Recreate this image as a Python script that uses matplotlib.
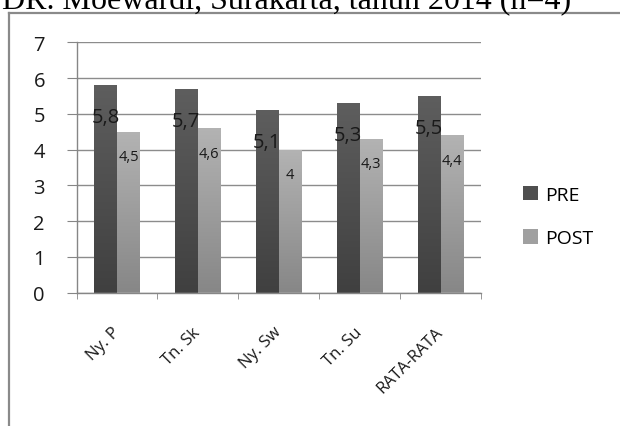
import matplotlib.pyplot as plt
import numpy as np
from matplotlib.colors import LinearSegmentedColormap
from matplotlib.patches import Patch
from matplotlib.lines import Line2D

# data
categories = ["Ny. P", "Tn. Sk", "Ny. Sw", "Tn. Su", "RATA-RATA"]
pre = [5.8, 5.7, 5.1, 5.3, 5.5]
post = [4.5, 4.6, 4.0, 4.3, 4.4]
pre_labels = ["5,8", "5,7", "5,1", "5,3", "5,5"]
post_labels = ["4,5", "4,6", "4", "4,3", "4,4"]
title = "DR. Moewardi, Surakarta, tahun 2014 (n=4)"

plt.rcParams['font.family'] = ['Open Sans', 'DejaVu Sans']

W, H = 620, 427
fig = plt.figure(figsize=(W / 100, H / 100), dpi=100)

# caption line above the chart, cut off at the top edge
fig.text(2 / W, 1 - 9 / H, title, family='Liberation Serif', fontsize=23,
         ha='left', va='baseline', color='black')

# chart frame (only top and left edges are visible)
fig.add_artist(Line2D([9 / W, 1.01], [1 - 14 / H, 1 - 14 / H],
                      transform=fig.transFigure, color='#8a8a8a', lw=1.6))
fig.add_artist(Line2D([9 / W, 9 / W], [-0.01, 1 - 14 / H],
                      transform=fig.transFigure, color='#8a8a8a', lw=1.6))

ax = fig.add_axes([76.5 / W, (H - 293.5) / H, 404.5 / W, 250.2 / H])

x = np.arange(len(categories))
bw = 0.284
pre_cmap = LinearSegmentedColormap.from_list('pre', ['#404040', '#5e5e5e'])
post_cmap = LinearSegmentedColormap.from_list('post', ['#878787', '#b3b3b3'])

b1 = ax.bar(x - bw / 2, pre, bw, color='#4f4f4f', zorder=2, label='PRE')
b2 = ax.bar(x + bw / 2, post, bw, color='#9c9c9c', zorder=2, label='POST')

# vertical gradient inside each bar
grad = np.linspace(0, 1, 256).reshape(-1, 1)
for bars, cmap in ((b1, pre_cmap), (b2, post_cmap)):
    for r in bars:
        x0, y0 = r.get_x(), r.get_y()
        im = ax.imshow(grad, extent=[x0, x0 + r.get_width(), y0, y0 + r.get_height()],
                       origin='lower', aspect='auto', cmap=cmap, zorder=2.5)
        im.set_clip_path(r)

ax.set_xlim(-0.5, len(categories) - 0.5)
ax.set_ylim(0, 7)

# data labels
for xi, v, t in zip(x, pre, pre_labels):
    ax.annotate(t, (xi - bw / 2, v), xytext=(0, -23), textcoords='offset points',
                ha='center', va='center', fontsize=14.5, color='#1a1a1a', zorder=4)
for xi, v, t in zip(x, post, post_labels):
    ax.annotate(t, (xi + bw / 2, v), xytext=(0, -18), textcoords='offset points',
                ha='center', va='center', fontsize=10.5, color='#1a1a1a', zorder=4)

# axes styling
for s in ('top', 'right'):
    ax.spines[s].set_visible(False)
for s in ('left', 'bottom'):
    ax.spines[s].set_color('#868686')
    ax.spines[s].set_linewidth(1)
ax.yaxis.grid(True, color='#8c8c8c', lw=1)
ax.set_axisbelow(True)

ax.set_yticks(range(0, 8))
ax.tick_params(axis='y', length=7.2, color='#868686', labelsize=14.5, pad=15.5,
               labelcolor='#1a1a1a')

ax.set_xticks(x)
ax.set_xticklabels(categories)
ax.set_xticks(np.arange(-0.5, len(categories)), minor=True)
ax.tick_params(axis='x', which='major', length=0, pad=26.5, labelsize=12,
               labelcolor='#1a1a1a')
ax.tick_params(axis='x', which='minor', length=4.3, color='#868686')
plt.setp(ax.get_xticklabels(), rotation=45, ha='right', va='center',
         rotation_mode='anchor')

handles = [Patch(facecolor='#4f4f4f', label='PRE'),
           Patch(facecolor='#a0a0a0', label='POST')]
fig.legend(handles=handles, loc='upper left', bbox_to_anchor=(523 / W, (H - 187) / H),
           bbox_transform=fig.transFigure, frameon=False, fontsize=14,
           handlelength=0.75, handleheight=0.75, handletextpad=0.4,
           labelspacing=1.3, borderpad=0, borderaxespad=0)

fig.savefig('out.png', dpi=100)
